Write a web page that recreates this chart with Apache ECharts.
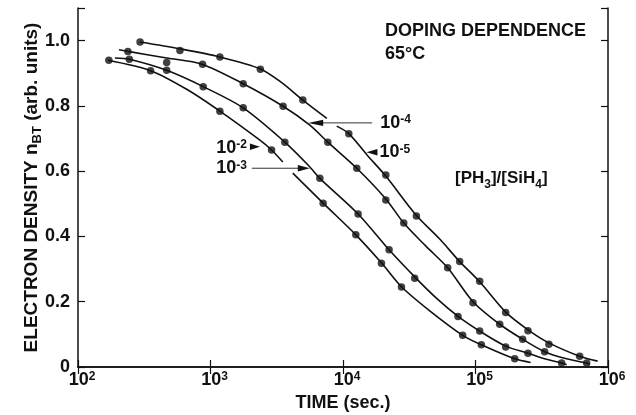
<!DOCTYPE html>
<html>
<head>
<meta charset="utf-8">
<script src="https://cdn.jsdelivr.net/npm/echarts@6/dist/echarts.min.js"></script>
<style>
  html, body { margin: 0; padding: 0; background: #fff; }
  #chart { width: 636px; height: 415px; }
</style>
</head>
<body>
<div id="chart"></div>
<script>
// Axis ticks
const timeDecades = [2, 3, 4, 5, 6];               // 10^2 ... 10^6 s
const densityTicks = [0, 0.2, 0.4, 0.6, 0.8, 1.0];
const densityTop = 1.1;

// Doping ratio [PH3]/[SiH4] for each curve (exponent of ten)
const dopingExponents = [-2, -3, -4, -5];

// Measured electron density n_BT vs. time (s) at 65 °C
const measured_1e2 = [[171,0.940],[353,0.908],[1177,0.784],[2890,0.665],[7080,0.502],[12500,0.405],
  [19500,0.318],[27620,0.245],[80000,0.097],[110700,0.068],[197700,0.025]];
const measured_1e3 = [[244,0.943],[467,0.909],[881,0.859],[1765,0.794],[3640,0.689],[6685,0.578],
  [13000,0.469],[22280,0.359],[34760,0.272],[73790,0.155],[107600,0.110],[169000,0.061],[248900,0.042],[446700,0.012]];
const measured_1e4 = [[238,0.967],[467,0.933],[871,0.928],[1765,0.868],[3532,0.799],[7680,0.689],
  [12710,0.609],[21040,0.512],[28750,0.441],[61660,0.304],[95700,0.197],[152300,0.131],[227000,0.085],[332300,0.047],[690200,0.012]];
const measured_1e5 = [[294,0.996],[588,0.970],[1177,0.950],[2378,0.912],[4977,0.818],[11060,0.715],
  [21040,0.588],[35810,0.463],[75990,0.323],[107600,0.263],[169000,0.167],[248900,0.111],[358100,0.070],[610900,0.033]];

// Fitted decay curves; null = line interrupted where a label arrow crosses it
const fit_1e2 = [[168,0.940],[353,0.908],[661,0.851],[1177,0.784],[2360,0.695],[2890,0.665],[3516,0.628],null,
  [4180,0.594],[7080,0.502],[12500,0.405],[19630,0.318],[27750,0.245],[45150,0.172],[80000,0.097],[110700,0.068],
  [197700,0.025],[260600,0.014]];
const fit_1e3 = [[190,0.947],[244,0.943],[467,0.909],[881,0.859],[1765,0.794],[3640,0.689],[5620,0.613],
  [6685,0.578],[13000,0.469],[22280,0.359],[34760,0.276],[50900,0.210],[73790,0.155],[107600,0.110],[169000,0.064],
  [248900,0.042],[332300,0.025],[446700,0.012],[487500,0.007]];
const fit_1e4 = [[204,0.972],[238,0.967],[467,0.947],[861,0.928],[1765,0.868],[3532,0.799],[5620,0.741],
  [7680,0.689],[12710,0.609],[21040,0.515],[28750,0.441],[42070,0.371],[61660,0.304],[95700,0.200],[152300,0.131],
  [227000,0.085],[332300,0.047],[478600,0.026],[690200,0.012],[726800,0.007]];
const fit_1e5 = [[294,0.996],[588,0.975],[1177,0.950],[2360,0.914],[3428,0.872],[4977,0.818],[7550,0.762],null,
  [8970,0.738],[11060,0.715],[15240,0.649],[21040,0.585],[35000,0.469],[53700,0.392],[75990,0.323],[107600,0.261],
  [169000,0.168],[248900,0.114],[358100,0.074],[610900,0.033],[835000,0.018]];

// Where each doping label's arrow points (time, density)
const arrowTips = [[2360,0.675],[5620,0.609],[5460,0.748],[15030,0.658]];

const measuredSets = [measured_1e2, measured_1e3, measured_1e4, measured_1e5];
const fitSets = [fit_1e2, fit_1e3, fit_1e4, fit_1e5];

const INK = '#111';
const FONT = "'Liberation Sans', Arial, Helvetica, sans-serif";
const bold = (size, extra) => Object.assign({ fontFamily: FONT, fontWeight: 'bold', fontSize: size, color: INK }, extra || {});

// "10" with a raised exponent
const supRich = {
  b: bold(18, { lineHeight: 20, verticalAlign: 'top' }),
  s: bold(12, { lineHeight: 16, verticalAlign: 'top' })
};
// text with lowered subscripts
const subRich = (main, sub, lh) => ({
  m: bold(main, { lineHeight: lh, verticalAlign: 'middle' }),
  s: bold(sub, { lineHeight: lh, verticalAlign: 'bottom' })
});

const xMin = Math.pow(10, timeDecades[0]);
const xMax = Math.pow(10, timeDecades[timeDecades.length - 1]);
const yStep = densityTicks[1] - densityTicks[0];

const frameLine = { show: true, lineStyle: { color: INK, width: 1.5 } };
const innerTick = { show: true, inside: true, length: 7, lineStyle: { color: INK, width: 1.2 } };

const option = {
  animation: false,
  backgroundColor: '#fff',
  grid: { left: 78, right: 28, top: 8, bottom: 48, containLabel: false, outerBoundsMode: 'none' },
  xAxis: [
    {
      type: 'log', logBase: 10, min: xMin, max: xMax, position: 'bottom',
      axisLine: frameLine, axisTick: innerTick, splitLine: { show: false }, minorTick: { show: false },
      axisLabel: {
        margin: 4, padding: [0, 0, 0, 8],
        formatter: v => '{b|10}{s|' + Math.round(Math.log10(v)) + '}',
        rich: supRich
      },
      name: 'TIME (sec.)', nameLocation: 'middle', nameGap: 27, nameMoveOverlap: false,
      nameTextStyle: bold(18)
    },
    {
      type: 'log', logBase: 10, min: xMin, max: xMax, position: 'top',
      axisLine: frameLine, axisTick: innerTick, axisLabel: { show: false },
      splitLine: { show: false }, minorTick: { show: false }
    }
  ],
  yAxis: [
    {
      type: 'value', min: densityTicks[0], max: densityTop, interval: yStep, position: 'left',
      axisLine: frameLine, axisTick: innerTick, splitLine: { show: false },
      axisLabel: Object.assign(bold(18), {
        margin: 8,
        formatter: v => {
          const k = v / yStep;
          if (Math.abs(k - Math.round(k)) > 1e-6) return '';
          return v === 0 ? '0' : v.toFixed(1);
        }
      }),
      name: '{m|ELECTRON DENSITY n}{s|BT}{m| (arb. units)}',
      nameLocation: 'middle', nameGap: 34, nameMoveOverlap: false,
      nameTextStyle: { rich: subRich(19, 13, 24) }
    },
    {
      type: 'value', min: densityTicks[0], max: densityTop, interval: yStep, position: 'right',
      axisLine: frameLine, axisTick: innerTick, axisLabel: { show: false }, splitLine: { show: false }
    }
  ],
  series: []
};

fitSets.forEach((pts, i) => {
  option.series.push({
    name: 'fit 1e' + dopingExponents[i],
    type: 'line', xAxisIndex: 0, yAxisIndex: 0,
    data: pts.map(p => p === null ? [NaN, NaN] : p),
    showSymbol: false, smooth: 0.3, connectNulls: false, silent: true,
    lineStyle: { color: INK, width: 1.6 }, z: 2
  });
});
measuredSets.forEach((pts, i) => {
  option.series.push({
    name: 'data 1e' + dopingExponents[i],
    type: 'scatter', xAxisIndex: 0, yAxisIndex: 0,
    data: pts, symbol: 'circle', symbolSize: 7.5, silent: true,
    itemStyle: { color: INK }, z: 3
  });
});

const chart = echarts.init(document.getElementById('chart'), null, { renderer: 'canvas' });
chart.setOption(option);

// Annotations: titles and doping labels with arrows
const toPx = p => chart.convertToPixel({ xAxisIndex: 0, yAxisIndex: 0 }, p);
const gfx = [];

function textEl(x, y, text, rich, align, vAlign) {
  return {
    type: 'text', x: x, y: y, silent: true,
    style: {
      text: text, rich: rich, fill: INK, font: 'bold 18px ' + FONT,
      align: align, textAlign: align, verticalAlign: vAlign, textVerticalAlign: vAlign
    }
  };
}
function head(tip, dx, len) {
  // filled arrowhead with its point at tip
  return {
    type: 'polygon', silent: true,
    shape: { points: [[tip[0], tip[1]], [tip[0] + dx * len, tip[1] - 3.2], [tip[0] + dx * len, tip[1] + 3.2]] },
    style: { fill: INK }
  };
}
function shaft(x1, x2, y) {
  return { type: 'line', silent: true, shape: { x1: x1, y1: y, x2: x2, y2: y }, style: { stroke: '#333', lineWidth: 1 } };
}
const label = e => '{b|10}{s|' + e + '}';

const t2 = toPx(arrowTips[0]);
gfx.push(head(t2, -1, 10));
gfx.push(textEl(t2[0] - 13, t2[1] + 2, label(dopingExponents[0]), supRich, 'right', 'middle'));

const t3 = toPx(arrowTips[1]);
gfx.push(shaft(t3[0] - 58, t3[0] - 10, t3[1]));
gfx.push(head(t3, -1, 12));
gfx.push(textEl(t3[0] - 63, t3[1] + 1, label(dopingExponents[1]), supRich, 'right', 'middle'));

const t4 = toPx(arrowTips[2]);
gfx.push(shaft(t4[0] + 14, t4[0] + 64, t4[1]));
gfx.push(head(t4, 1, 15));
gfx.push(textEl(t4[0] + 72, t4[1] + 1, label(dopingExponents[2]), supRich, 'left', 'middle'));

const t5 = toPx(arrowTips[3]);
gfx.push(head(t5, 1, 11));
gfx.push(textEl(t5[0] + 13, t5[1] + 1, label(dopingExponents[3]), supRich, 'left', 'middle'));

gfx.push(textEl(385, 31.5, 'DOPING DEPENDENCE', null, 'left', 'middle'));
gfx.push(textEl(385, 54, '65°C', null, 'left', 'middle'));
gfx.push(textEl(455, 166.5, '{m|[PH}{s|3}{m|]/[SiH}{s|4}{m|]}', subRich(17, 12, 24), 'left', 'top'));

chart.setOption({ graphic: { elements: gfx } });
</script>
</body>
</html>
